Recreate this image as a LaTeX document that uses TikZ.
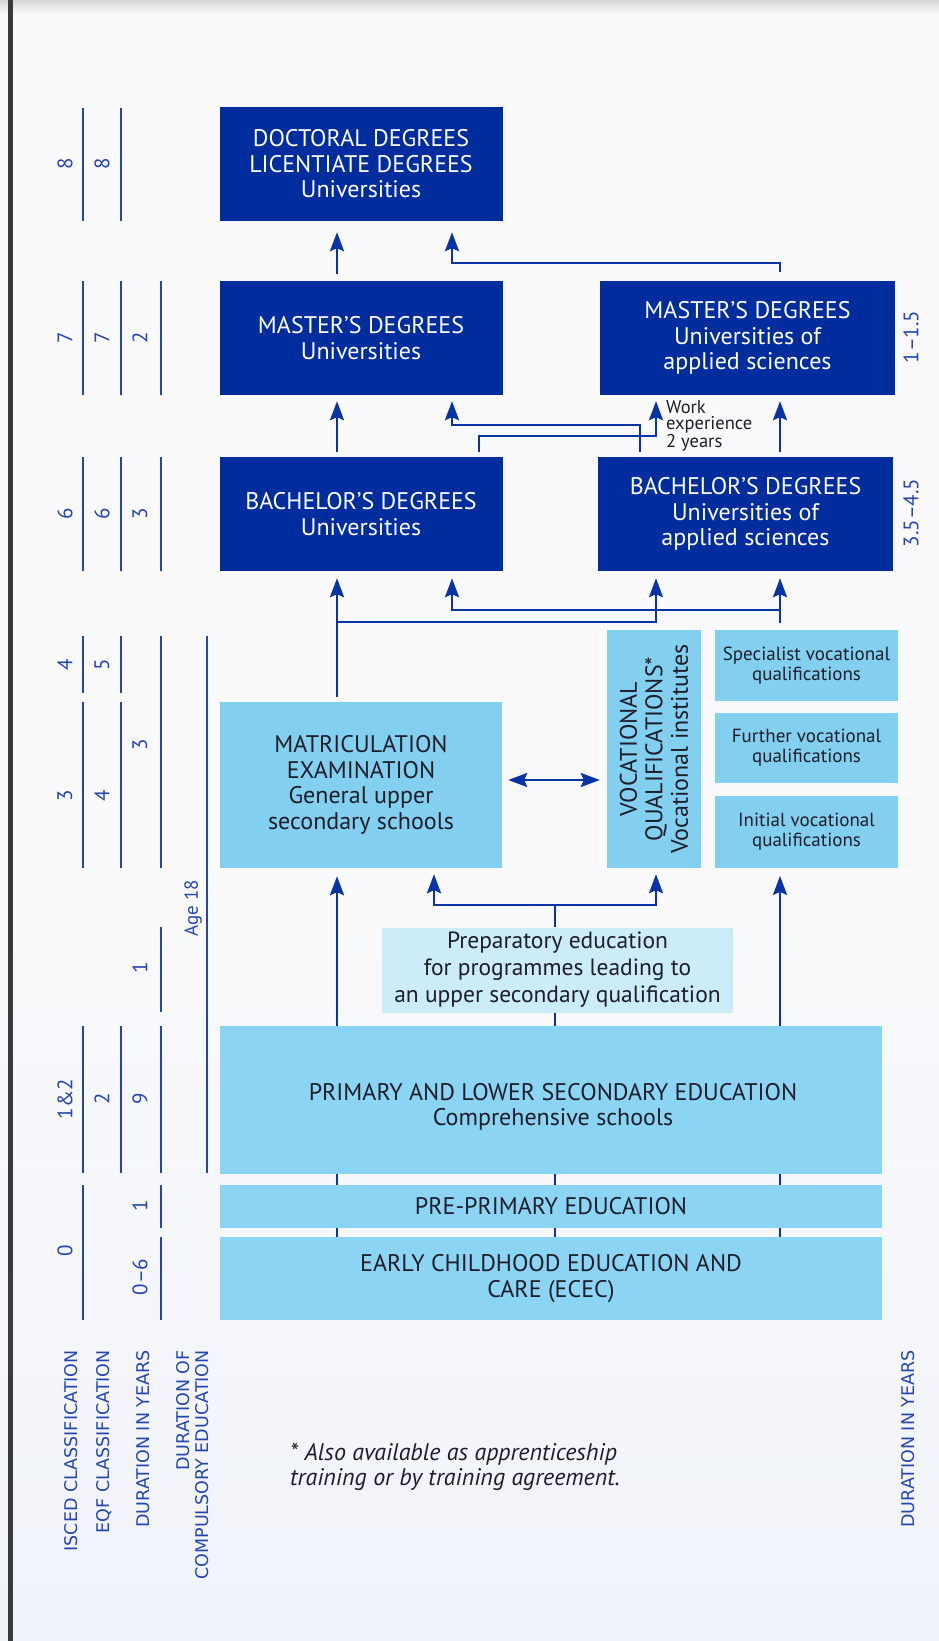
\documentclass[tikz,border=0pt]{standalone}
\usepackage{fontspec}
\setmainfont{PT Sans}
\newfontfamily\labfont{DejaVu Sans}
\usetikzlibrary{arrows.meta}
\definecolor{darkbox}{HTML}{002D9E}
\definecolor{lightbox}{HTML}{82CFEF}
\definecolor{lightboxB}{HTML}{8BD4F3}
\definecolor{prepbox}{HTML}{CDECF9}
\definecolor{linecol}{HTML}{0A33A6}
\definecolor{labcol}{HTML}{2546B0}
\definecolor{txtdark}{HTML}{1E1E2A}
\definecolor{bgcol}{HTML}{FAFAFC}
\definecolor{bgblue}{HTML}{F0F3FA}
\definecolor{barcol}{HTML}{3A3A3A}
\begin{document}
\begin{tikzpicture}[x=1pt,y=-1pt,
  dbox/.style={fill=darkbox,text=white,align=center,inner sep=0pt,font=\fontsize{24}{25.5}\selectfont},
  lbox/.style={fill=lightbox,text=txtdark,align=center,inner sep=0pt,font=\fontsize{24}{25.5}\selectfont},
  sbox/.style={lbox,font=\fontsize{19}{20}\selectfont},
  ln/.style={draw=linecol,line width=2.4pt},
  arr/.style={ln,-{Stealth[length=19pt,width=14pt,inset=3pt]}},
  darr/.style={ln,{Stealth[length=19pt,width=14pt,inset=3pt]}-{Stealth[length=19pt,width=14pt,inset=3pt]}},
  num/.style={text=labcol,rotate=90,font=\fontsize{21}{21}\selectfont,inner sep=0pt},
  scl/.style={draw=labcol,line width=2.6pt},
  botlab/.style={text=labcol,rotate=90,anchor=east,inner sep=0pt,font=\labfont\fontsize{17.5}{19}\selectfont}
]
\useasboundingbox (0,0) rectangle (939,1641);
% background
\fill[bgcol] (0,0) rectangle (939,1641);
\shade[top color=bgcol,bottom color=bgblue] (0,900) rectangle (939,1641);
\shade[top color=black!16,bottom color=bgcol] (0,0) rectangle (939,14);
\fill[barcol] (8,0) rectangle (12.5,1641);

% boxes
\node[dbox,minimum width=283,minimum height=114] (doc) at (361,164) {DOCTORAL DEGREES\\LICENTIATE DEGREES\\Universities};
\node[dbox,minimum width=283,minimum height=114] (mu) at (361,338) {MASTER’S DEGREES\\Universities};
\node[dbox,minimum width=295,minimum height=114] (mas) at (747.5,338) {MASTER’S DEGREES\\Universities of\\applied sciences};
\node[dbox,minimum width=283,minimum height=114] (bu) at (361,514) {BACHELOR’S DEGREES\\Universities};
\node[dbox,minimum width=295,minimum height=114] (bas) at (745.5,514) {BACHELOR’S DEGREES\\Universities of\\applied sciences};
\node[lbox,minimum width=282,minimum height=166] (matric) at (361,785) {MATRICULATION\\EXAMINATION\\General upper\\secondary schools};
\node[lbox,rotate=90,minimum width=238,minimum height=94] (voc) at (654,749) {VOCATIONAL\\QUALIFICATIONS*\\Vocational institutes};
\node[sbox,minimum width=183,minimum height=71] (spec) at (806.5,665.5) {Specialist vocational\\qualifications};
\node[sbox,minimum width=183,minimum height=70] (further) at (806.5,748) {Further vocational\\qualifications};
\node[sbox,minimum width=183,minimum height=72] (init) at (806.5,831.7) {Initial vocational\\qualifications};
\node[lbox,fill=prepbox,minimum width=351,minimum height=85,font=\fontsize{23.5}{27}\selectfont] (prep) at (557.5,970) {Preparatory education\\for programmes leading to\\an upper secondary qualification};
\node[lbox,fill=lightboxB,minimum width=662.5,minimum height=147.5] (prim) at (551,1100) {};
\node[lbox,fill=none] (primtext) at (553,1107) {PRIMARY AND LOWER SECONDARY EDUCATION\\Comprehensive schools};
\node[lbox,fill=lightboxB,minimum width=662.5,minimum height=43] (pre) at (551,1206.5) {PRE-PRIMARY EDUCATION};
\node[lbox,fill=lightboxB,minimum width=662.5,minimum height=83] (ecec) at (551,1278.5) {EARLY CHILDHOOD EDUCATION AND\\CARE (ECEC)};

% helper coordinates
\coordinate (xA) at (337,0);
\coordinate (xB) at (452,0);
\coordinate (xC) at (479,0);
\coordinate (xD) at (555,0);
\coordinate (xE) at (640,0);
\coordinate (xF) at (656,0);
\coordinate (xG) at (780,0);
\coordinate (xP) at (434,0);
\coordinate (yDoc) at (0,263);
\coordinate (yM1) at (0,425);
\coordinate (yM2) at (0,436);
\coordinate (yB1) at (0,610);
\coordinate (yB2) at (0,622);
\coordinate (yP) at (0,905);
\coordinate (yDA) at (0,780);

% connectors to doctoral
\draw[arr,shorten <=7pt,shorten >=11pt] (mu.north -| xA) -- (doc.south -| xA);
\draw[arr,shorten <=9pt,shorten >=11pt] (mas.north -| xG) -- (xG |- yDoc) -- (xB |- yDoc) -- (doc.south -| xB);
% connectors to masters
\draw[arr,shorten <=5pt,shorten >=6pt] (bu.north -| xA) -- (mu.south -| xA);
\draw[arr,shorten <=5pt,shorten >=6pt] (bas.north -| xE) -- (xE |- yM1) -- (xB |- yM1) -- (mu.south -| xB);
\draw[arr,shorten <=5pt,shorten >=6pt] (bu.north -| xC) -- (xC |- yM2) -- (xF |- yM2) -- (mas.south -| xF);
\draw[arr,shorten <=5pt,shorten >=6pt] (bas.north -| xG) -- (mas.south -| xG);
% connectors to bachelors
\draw[arr,shorten <=5pt,shorten >=7pt] (matric.north -| xA) -- (bu.south -| xA);
\coordinate (jB2) at (xA |- yB2);
\draw[arr,shorten >=7pt] (jB2) -- (xF |- yB2) -- (bas.south -| xF);
\draw[arr,shorten <=7pt,shorten >=7pt] (spec.north -| xG) -- (bas.south -| xG);
\coordinate (jB1) at (xG |- yB1);
\draw[arr,shorten >=7pt] (jB1) -- (xB |- yB1) -- (bu.south -| xB);
% matric <-> vocational
\draw[darr,shorten <=6pt,shorten >=7pt] (matric.east |- yDA) -- (voc.north |- yDA);
% preparatory
\draw[arr,shorten >=6pt] (prep.north -| xD) -- (xD |- yP) -| (matric.south -| xP);
\coordinate (jP) at (xD |- yP);
\draw[arr,shorten >=6pt] (jP) -| (voc.west -| xF);
% primary
\draw[arr,shorten >=8pt] (prim.north -| xA) -- (matric.south -| xA);
\draw[ln] (prim.north -| xD) -- (prep.south -| xD);
\draw[arr,shorten >=8pt] (prim.north -| xG) -- (init.south -| xG);
\foreach \xx in {xA,xD,xG} {
  \draw[ln,line width=2pt] (pre.north -| \xx) -- (prim.south -| \xx);
  \draw[ln,line width=2pt] (ecec.north -| \xx) -- (pre.south -| \xx);
}

% work experience
\node[anchor=north west,align=left,inner sep=0pt,text=txtdark,font=\fontsize{18.5}{16}\selectfont] (work) at (666,400) {Work\\experience\\2 years};

% right durations
\node[num] (r1) at (911,337) {1–1.5};
\node[num] (r2) at (911,513) {3.5–4.5};

% left scales
\foreach \a/\b in {108/221,281/395,457/571,636/693,702/868,1026/1173,1185/1320} \draw[scl] (83,\a) -- (83,\b);
\foreach \a/\b in {108/221,281/395,457/571,636/693,702/868,1026/1173} \draw[scl] (121,\a) -- (121,\b);
\foreach \a/\b in {281/395,457/571,636/868,927/1012,1026/1173,1185/1228,1237/1320} \draw[scl] (161,\a) -- (161,\b);
\draw[scl] (207,636) -- (207,1173);

\node[num] (i8) at (65,164) {8};
\node[num] (i7) at (65,338) {7};
\node[num] (i6) at (65,514) {6};
\node[num] (i4) at (65,665) {4};
\node[num] (i3) at (65,796) {3};
\node[num] (i12) at (65,1099) {1\&2};
\node[num] (i0) at (65,1251) {0};
\node[num] (e8) at (102,164) {8};
\node[num] (e7) at (102,338) {7};
\node[num] (e6) at (102,514) {6};
\node[num] (e5) at (102,665) {5};
\node[num] (e4) at (102,796) {4};
\node[num] (e2) at (102,1099) {2};
\node[num] (d2) at (140,338) {2};
\node[num] (d3a) at (140,514) {3};
\node[num] (d3b) at (140,745) {3};
\node[num] (d1a) at (140,968) {1};
\node[num] (d9) at (140,1099) {9};
\node[num] (d1b) at (140,1206) {1};
\node[num] (d06) at (140,1277) {0–6};
\node[num,font=\fontsize{19}{19}\selectfont] (age) at (193,908) {Age 18};

% bottom labels
\node[botlab] (lisced) at (71,1350) {ISCED CLASSIFICATION};
\node[botlab] (leqf) at (104,1350) {EQF CLASSIFICATION};
\node[botlab] (ldur) at (143,1350) {DURATION IN YEARS};
\node[botlab,align=right] (lcomp) at (193,1350) {DURATION OF\\COMPULSORY EDUCATION};
\node[botlab] (rdur) at (908,1350) {DURATION IN YEARS};

% footnote
\node[anchor=west,align=left,inner sep=0pt,text=txtdark,font=\itshape\fontsize{24}{24.5}\selectfont] (foot) at (290,1467) {* Also available as apprenticeship\\training or by training agreement.};
\end{tikzpicture}
\end{document}
